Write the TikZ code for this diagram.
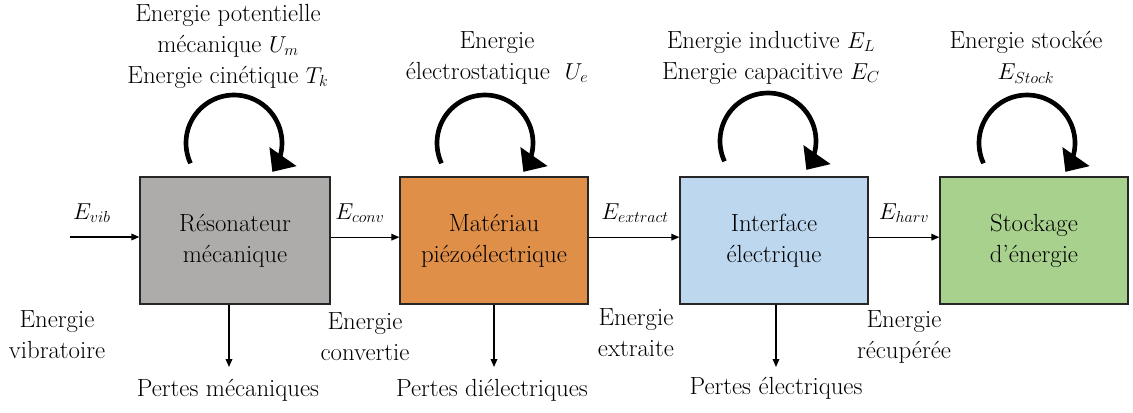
\documentclass[tikz,border=0pt]{standalone}
\usetikzlibrary{arrows.meta}

\definecolor{resogray}{RGB}{174,171,171}
\definecolor{piezoorange}{RGB}{224,143,72}
\definecolor{interblue}{RGB}{189,215,238}
\definecolor{stockgreen}{RGB}{169,209,142}

\tikzset{every picture/.style={line width=0.75pt}}

\begin{document}
\begin{tikzpicture}[x=0.75pt,y=0.75pt,yscale=-1,xscale=1,
  font=\fontsize{18.6}{23.25}\selectfont,
  blockbox/.style={draw=black!85, line width=1pt, minimum width=141pt, minimum height=95.25pt, align=center, inner sep=0pt},
  txt/.style={align=center, inner sep=1pt},
  flowarrow/.style={-{Triangle[length=6pt,width=5pt]}, line width=0.9pt},
  looparrow/.style={-{Triangle[length=14pt,width=24pt]}, line width=3.5pt}]
\path[use as bounding box] (0,0) rectangle (1133,412);

%Blocks
\node[blockbox, fill=resogray, minimum width=142.5pt] (reso) at (235,240.5) {Résonateur\\mécanique};
\node[blockbox, fill=piezoorange] (piezo) at (494,240.5) {Matériau\\piézoélectrique};
\node[blockbox, fill=interblue] (inter) at (774,240.5) {Interface\\électrique};
\node[blockbox, fill=stockgreen] (stock) at (1034,240.5) {Stockage\\d’énergie};

%Energy flow
\coordinate (vibin) at (70,237);
\draw[flowarrow] (vibin) -- (vibin -| reso.west);
\draw[flowarrow] ([yshift=-2.5pt]reso.east) -- ([yshift=-2.5pt]piezo.west);
\draw[flowarrow] ([yshift=-2.5pt]piezo.east) -- ([yshift=-2.5pt]inter.west);
\draw[flowarrow] ([yshift=-2.5pt]inter.east) -- ([yshift=-2.5pt]stock.west);

% Text Node
\node[txt] (evib) at (92,213) {$E_{vib}$};
\node[txt] (econv) at (360,213) {$E_{conv}$};
\node[txt] (eextract) at (635,213) {$E_{extract}$};
\node[txt] (eharv) at (904,213) {$E_{harv}$};

\node[txt] (vibtext) at (57,335) {Energie\\vibratoire};
\node[txt] (convtext) at (365,337) {Energie\\convertie};
\node[txt] (extracttext) at (636,333) {Energie\\extraite};
\node[txt] (harvtext) at (904,337) {Energie\\récupérée};

%Losses
\node[txt] (pmeca) at (228,390) {Pertes mécaniques};
\node[txt] (pdiel) at (492,390) {Pertes diélectriques};
\node[txt] (pelec) at (776,388) {Pertes électriques};
\draw[flowarrow] ([xshift=-4.5pt]reso.south) -- ([xshift=-4.5pt]reso.south |- 0,367);
\draw[flowarrow] (piezo.south) -- (piezo.south |- 0,367);
\draw[flowarrow] ([xshift=1.5pt]inter.south) -- ([xshift=1.5pt]inter.south |- 0,367);

%Stored energies
\node[txt] (resoen) at (228,46) {Energie potentielle\\mécanique $U_m$\\Energie cinétique $T_k$};
\node[txt] (piezoen) at (497,57.5) {Energie\\électrostatique \ $U_e$};
\node[txt] (interen) at (771,57.5) {Energie inductive $E_L$\\Energie capacitive $E_C$};
\node[txt] (stocken) at (1026,57.5) {Energie stockée\\$E_{Stock}$};

\coordinate (resoloop) at (234,143);
\coordinate (piezoloop) at (485,143);
\coordinate (interloop) at (768,141);
\coordinate (stockloop) at (1027,143);
\foreach \c in {resoloop,piezoloop,interloop,stockloop}
  \draw[looparrow, shift={(\c)}] plot[domain=155:397, samples=60] (\x:48);

\end{tikzpicture}
\end{document}
